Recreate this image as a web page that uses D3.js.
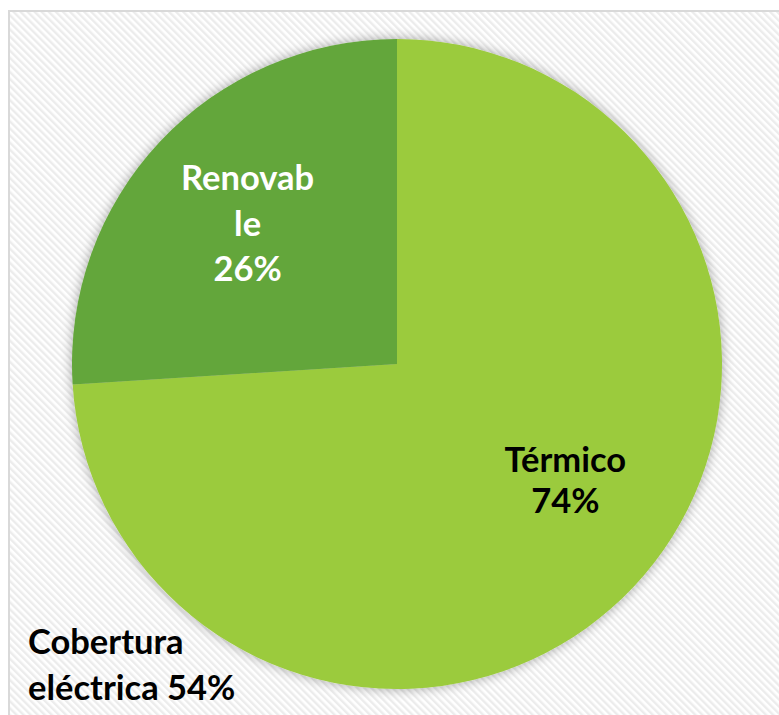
<!DOCTYPE html>
<html>
<head>
<meta charset="utf-8">
<script src="https://cdn.jsdelivr.net/npm/d3@7"></script>
<style>
  html, body { margin: 0; padding: 0; background: #fff; }
  svg { display: block; }
</style>
</head>
<body>
<svg id="chart" width="779" height="715"></svg>
<script>
const categories = ["Térmico", "Renovable"]
const shares = [74, 26]
const labelLines = [["Térmico", "74%"], ["Renovab", "le", "26%"]]
const sliceColors = ["#9bcb3c", "#63a63a"]
const labelColors = ["#000000", "#ffffff"]
const captionLines = ["Cobertura", "eléctrica 54%"]

const dims = {
  width: 779,
  height: 715,
  cx: 397,
  cy: 364,
  radius: 325,
  labelRadius: 205,
  fontSize: 34.5
}

// best-fit label placement drifts a little from the mid angle
const labelAngleShift = [-8.4, 0]
const labelLineHeight = [41, 45.5]

const svg = d3.select("#chart")
const defs = svg.append("defs")

// hatch background
const pattern = defs.append("pattern")
  .attr("id", "hatch")
  .attr("patternUnits", "userSpaceOnUse")
  .attr("width", 5)
  .attr("height", 5)
  .attr("patternTransform", "rotate(-45)")
pattern.append("rect")
  .attr("width", 5).attr("height", 5).attr("fill", "#ffffff")
pattern.append("rect")
  .attr("width", 2.4).attr("height", 5).attr("fill", "#ececec")

const shadow = defs.append("filter")
  .attr("id", "shadow")
  .attr("x", "-10%").attr("y", "-10%")
  .attr("width", "120%").attr("height", "120%")
shadow.append("feGaussianBlur")
  .attr("in", "SourceAlpha")
  .attr("stdDeviation", 6)
shadow.append("feComponentTransfer").append("feFuncA")
  .attr("type", "linear").attr("slope", 0.35)
const merge = shadow.append("feMerge")
merge.append("feMergeNode")
merge.append("feMergeNode").attr("in", "SourceGraphic")

svg.append("rect")
  .attr("x", 9).attr("y", 11)
  .attr("width", dims.width).attr("height", dims.height)
  .attr("fill", "url(#hatch)")
  .attr("stroke", "#d9d9d9")
  .attr("stroke-width", 2)

const pie = d3.pie().sort(null).value(d => d)
const arcs = pie(shares)

const arc = d3.arc().innerRadius(0).outerRadius(dims.radius)

const g = svg.append("g")
  .attr("transform", `translate(${dims.cx},${dims.cy})`)

g.append("g")
  .attr("filter", "url(#shadow)")
  .selectAll("path")
  .data(arcs)
  .join("path")
    .attr("d", arc)
    .attr("fill", (d, i) => sliceColors[i])

const labels = g.selectAll("text.slice")
  .data(arcs)
  .join("text")
    .attr("class", "slice")
    .attr("text-anchor", "middle")
    .attr("font-family", "Lato, 'Open Sans', sans-serif")
    .attr("font-weight", 700)
    .attr("font-size", dims.fontSize)
    .attr("fill", (d, i) => labelColors[i])
    .attr("transform", (d, i) => {
      const a = (d.startAngle + d.endAngle) / 2 + labelAngleShift[i] * Math.PI / 180
      const x = Math.sin(a) * dims.labelRadius
      const y = -Math.cos(a) * dims.labelRadius
      return `translate(${x},${y})`
    })

labels.each(function(d, i) {
  const lines = labelLines[i]
  const lh = labelLineHeight[i]
  const offset = -(lines.length - 1) * lh / 2 + 12
  d3.select(this).selectAll("tspan")
    .data(lines)
    .join("tspan")
      .attr("x", 0)
      .attr("y", (t, j) => offset + j * lh)
      .text(t => t)
})

svg.append("text")
  .attr("font-family", "Lato, 'Open Sans', sans-serif")
  .attr("font-weight", 700)
  .attr("font-size", dims.fontSize)
  .attr("fill", "#000")
  .selectAll("tspan")
  .data(captionLines)
  .join("tspan")
    .attr("x", 28)
    .attr("y", (t, j) => 654 + j * 46)
    .text(t => t)
</script>
</body>
</html>
